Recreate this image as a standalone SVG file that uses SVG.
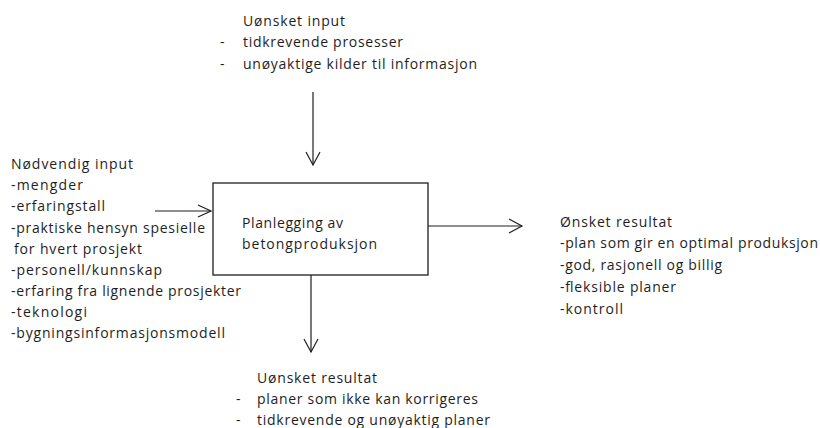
<svg xmlns="http://www.w3.org/2000/svg" width="820" height="428" viewBox="0 0 820 428">
  <style>
    text { font-family: "Open Sans", "Liberation Sans", Arial, sans-serif; font-size: 14px; fill: #1e1e1e; }
    .edge { stroke: #1e1e1e; stroke-width: 1.2; fill: none; }
    .head { stroke: #1e1e1e; stroke-width: 1.2; fill: none; }
    .box { fill: #ffffff; stroke: #1e1e1e; stroke-width: 1.3; }
  </style>
  <rect width="820" height="428" fill="#ffffff"/>

  <g id="connectors">
    <!-- top input arrow -->
    <line class="edge" x1="313" y1="92" x2="313" y2="165"/>
    <polyline class="head" points="306,152 313,165 320,152"/>
    <!-- left input arrow -->
    <line class="edge" x1="155" y1="211" x2="211" y2="211"/>
    <polyline class="head" points="198,205 211,211 198,217"/>
    <!-- right output arrow -->
    <line class="edge" x1="428" y1="226" x2="522" y2="226"/>
    <polyline class="head" points="509,219 522,226 509,233"/>
    <!-- bottom output arrow -->
    <line class="edge" x1="311" y1="275" x2="311" y2="352"/>
    <polyline class="head" points="304,339 311,352 318,339"/>
  </g>

  <g id="process">
    <rect class="box" x="213" y="183" width="215" height="92"/>
    <text x="242" y="228" textLength="101" lengthAdjust="spacing">Planlegging av</text>
    <text x="242" y="249" textLength="135" lengthAdjust="spacing">betongproduksjon</text>
  </g>

  <g id="unwanted-input">
    <text x="243" y="25.5" textLength="102" lengthAdjust="spacing">Uønsket input</text>
    <text x="220" y="47">-</text>
    <text x="243" y="47" textLength="160" lengthAdjust="spacing">tidkrevende prosesser</text>
    <text x="220" y="68.5">-</text>
    <text x="243" y="68.5" textLength="234" lengthAdjust="spacing">unøyaktige kilder til informasjon</text>
  </g>

  <g id="required-input">
    <text x="11" y="169" textLength="122" lengthAdjust="spacing">Nødvendig input</text>
    <text x="11" y="190" textLength="72" lengthAdjust="spacing">-mengder</text>
    <text x="11" y="211" textLength="94" lengthAdjust="spacing">-erfaringstall</text>
    <text x="11" y="232.5" textLength="194" lengthAdjust="spacing">-praktiske hensyn spesielle</text>
    <text x="14" y="253.5" textLength="128" lengthAdjust="spacing">for hvert prosjekt</text>
    <text x="11" y="274.5" textLength="151" lengthAdjust="spacing">-personell/kunnskap</text>
    <text x="11" y="296" textLength="230" lengthAdjust="spacing">-erfaring fra lignende prosjekter</text>
    <text x="11" y="317" textLength="76" lengthAdjust="spacing">-teknologi</text>
    <text x="11" y="338" textLength="214" lengthAdjust="spacing">-bygningsinformasjonsmodell</text>
  </g>

  <g id="wanted-result">
    <text x="560" y="226.5" textLength="112" lengthAdjust="spacing">Ønsket resultat</text>
    <text x="560" y="248.3" textLength="258" lengthAdjust="spacing">-plan som gir en optimal produksjon</text>
    <text x="560" y="270.1" textLength="162" lengthAdjust="spacing">-god, rasjonell og billig</text>
    <text x="560" y="291.9" textLength="116" lengthAdjust="spacing">-fleksible planer</text>
    <text x="560" y="313.7" textLength="63" lengthAdjust="spacing">-kontroll</text>
  </g>

  <g id="unwanted-result">
    <text x="257" y="383" textLength="120" lengthAdjust="spacing">Uønsket resultat</text>
    <text x="236" y="404">-</text>
    <text x="257" y="404" textLength="221" lengthAdjust="spacing">planer som ikke kan korrigeres</text>
    <text x="236" y="425">-</text>
    <text x="257" y="425" textLength="233" lengthAdjust="spacing">tidkrevende og unøyaktig planer</text>
  </g>
</svg>
